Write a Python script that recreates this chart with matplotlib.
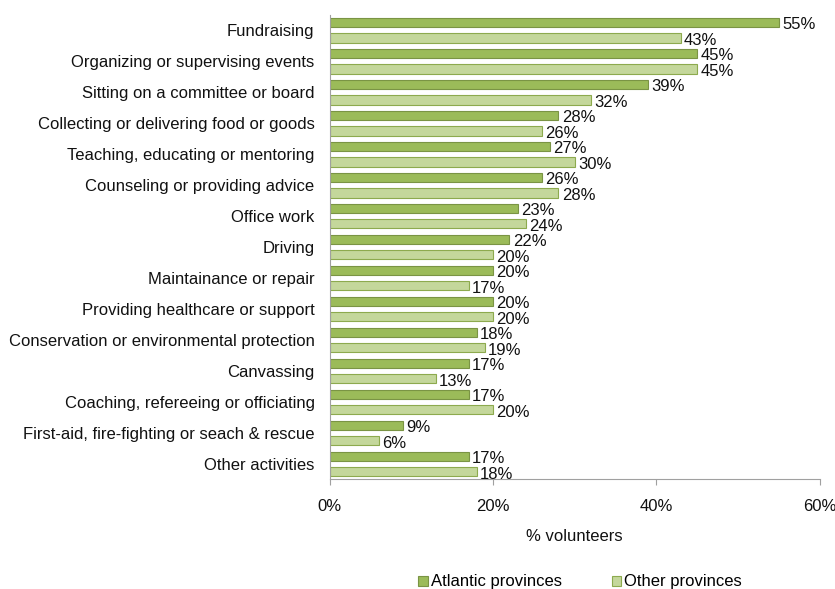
import numpy as np
import matplotlib.pyplot as plt

plt.rcParams['font.family'] = ['Liberation Sans', 'DejaVu Sans']

activities = [
    "Fundraising",
    "Organizing or supervising events",
    "Sitting on a committee or board",
    "Collecting or delivering food or goods",
    "Teaching, educating or mentoring",
    "Counseling or providing advice",
    "Office work",
    "Driving",
    "Maintainance or repair",
    "Providing healthcare or support",
    "Conservation or environmental protection",
    "Canvassing",
    "Coaching, refereeing or officiating",
    "First-aid, fire-fighting or seach & rescue",
    "Other activities",
]
atlantic = [55, 45, 39, 28, 27, 26, 23, 22, 20, 20, 18, 17, 17, 9, 17]
other = [43, 45, 32, 26, 30, 28, 24, 20, 17, 20, 19, 13, 20, 6, 18]
series_names = ["Atlantic provinces", "Other provinces"]
x_ticks = [0, 20, 40, 60]

fs = 12

fig = plt.figure(figsize=(8.35, 5.89), dpi=100)
ax = fig.add_axes([0.395, 0.186, 0.5865, 0.789])

y = np.arange(len(activities))
h = 0.3
off = 0.25

b1 = ax.barh(y - off, atlantic, height=h, color="#9BBB59", edgecolor="#7A9444",
             linewidth=0.8, label=series_names[0])
b2 = ax.barh(y + off, other, height=h, color="#C4D79B", edgecolor="#8DAA4E",
             linewidth=0.8, label=series_names[1])

for bars, vals in ((b1, atlantic), (b2, other)):
    for bar, v in zip(bars, vals):
        ax.text(v + 0.4, bar.get_y() + bar.get_height() / 2 + 0.08, f"{v}%",
                va="center", ha="left", fontsize=fs, color="#111111")

ax.set_ylim(len(activities) - 0.5, -0.5)
ax.set_xlim(0, 60)
ax.set_yticks(y)
ax.set_yticklabels(activities, fontsize=fs, color="#111111")
ax.tick_params(axis="y", length=0, pad=11)
ax.set_xticks(x_ticks)
ax.set_xticklabels([f"{t}%" for t in x_ticks], fontsize=fs, color="#111111")
ax.tick_params(axis="x", length=4, color="#A0A0A0", pad=10)

for s in ("top", "right"):
    ax.spines[s].set_visible(False)
for s in ("left", "bottom"):
    ax.spines[s].set_color("#A0A0A0")

ax.set_xlabel("% volunteers", fontsize=fs, labelpad=11, color="#111111")

fig.legend(handles=[b1, b2], loc="center", bbox_to_anchor=(0.695, 0.012),
           ncol=2, frameon=False, fontsize=fs, handlelength=0.55,
           handleheight=0.55, handletextpad=0.2, columnspacing=3.0)

fig.savefig("out.png", dpi=100)
